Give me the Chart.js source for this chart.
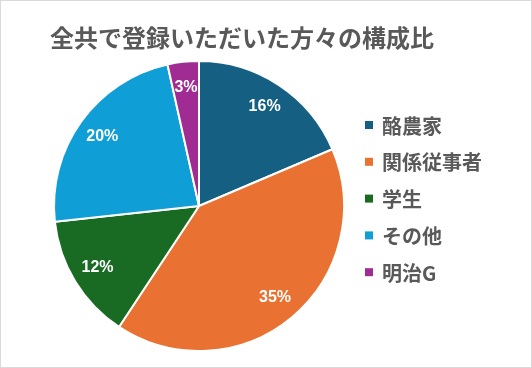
<!DOCTYPE html>
<html>
<head>
<meta charset="utf-8">
<script src="https://cdn.jsdelivr.net/npm/chart.js@4/dist/chart.umd.min.js"></script>
<style>
  html, body { margin: 0; padding: 0; background: #fff; }
  #wrap { position: relative; width: 532px; height: 368px; box-sizing: border-box; border: 1px solid #d9d9d9; }
  #wrap canvas { position: absolute; left: 0; top: 0; }
</style>
</head>
<body>
<div id="wrap"><canvas id="pieChart" width="530" height="366"></canvas></div>
<script>
// Données du graphique
const titleText = '全共で登録いただいた方々の構成比';
const categories = ['酪農家', '関係従事者', '学生', 'その他', '明治G'];
const shares = [16, 35, 12, 20, 3];
const sliceColors = ['#156082', '#E97132', '#196B24', '#0F9ED5', '#A02B93'];

const textGrey = '#595959';
const cjkFont = '"Noto Sans CJK JP", "Noto Sans", sans-serif';

// Étiquettes en pourcentage au centre de chaque part
const pctLabels = {
    id: 'pctLabels',
    afterDatasetsDraw(chart) {
        const ctx = chart.ctx;
        const meta = chart.getDatasetMeta(0);
        ctx.save();
        ctx.fillStyle = '#fff';
        ctx.font = 'bold 16px "Liberation Sans", Arial, sans-serif';
        ctx.textAlign = 'center';
        ctx.textBaseline = 'middle';
        meta.data.forEach((arc, i) => {
            const p = arc.getProps(['x', 'y', 'startAngle', 'endAngle', 'outerRadius'], true);
            const mid = (p.startAngle + p.endAngle) / 2;
            const r = p.outerRadius * 0.82;
            ctx.fillText(shares[i] + '%', p.x + Math.cos(mid) * r, p.y + Math.sin(mid) * r);
        });
        ctx.restore();
    }
};

// Titre et légende dessinés à la main (le titre déborde de la zone du graphique)
const sideText = {
    id: 'sideText',
    afterDraw(chart) {
        const ctx = chart.ctx;
        ctx.save();
        ctx.textBaseline = 'middle';
        ctx.textAlign = 'left';

        ctx.fillStyle = textGrey;
        ctx.font = 'bold 24px ' + cjkFont;
        ctx.fillText(titleText, 49, 37);

        const x0 = 364, y0 = 124, step = 36.8;
        ctx.font = 'bold 20px ' + cjkFont;
        categories.forEach((name, i) => {
            const y = y0 + i * step;
            ctx.fillStyle = sliceColors[i];
            ctx.fillRect(x0, y - 4, 8, 8);
            ctx.fillStyle = textGrey;
            ctx.fillText(name, x0 + 17, y + 1);
        });
        ctx.restore();
    }
};

const ctx = document.getElementById('pieChart').getContext('2d');
new Chart(ctx, {
    type: 'pie',
    data: {
        labels: categories,
        datasets: [{
            data: shares,
            backgroundColor: sliceColors,
            borderColor: '#fff',
            borderWidth: 2
        }]
    },
    options: {
        responsive: false,
        animation: false,
        layout: { padding: { top: 59, left: 52, right: 186, bottom: 15 } },
        plugins: {
            title: { display: false },
            legend: { display: false },
            tooltip: { enabled: false }
        }
    },
    plugins: [pctLabels, sideText]
});
</script>
</body>
</html>
